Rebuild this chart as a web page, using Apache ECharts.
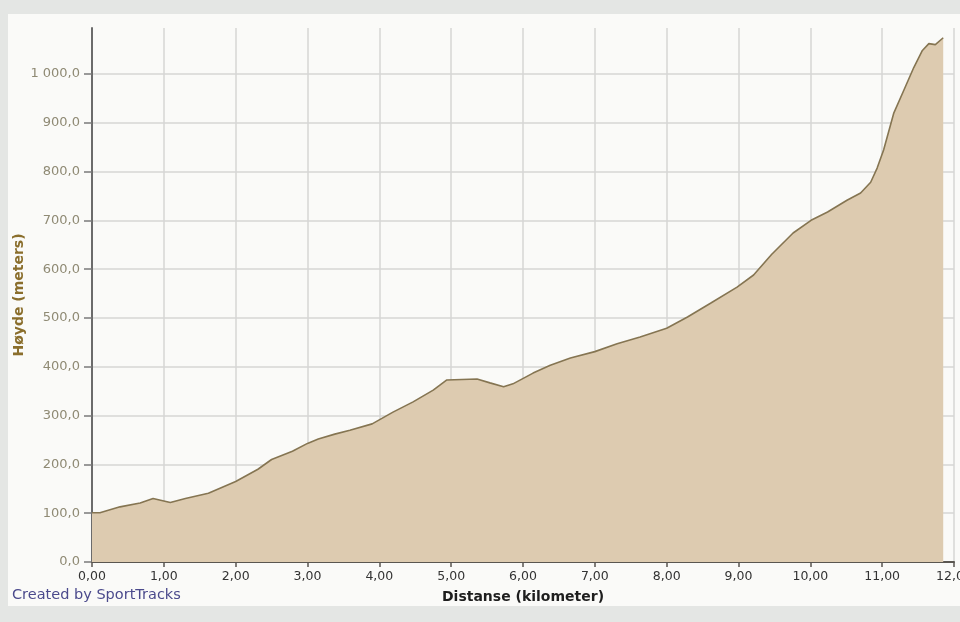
<!DOCTYPE html>
<html>
<head>
<meta charset="utf-8">
<script src="https://cdn.jsdelivr.net/npm/echarts@6/dist/echarts.min.js"></script>
<style>
html,body{margin:0;padding:0;background:#e4e6e4;}
#panel{position:absolute;left:8px;top:14px;width:952px;height:592px;background:#fafaf8;}
#chart{position:absolute;left:0;top:0;width:960px;height:622px;}
</style>
</head>
<body>
<div id="panel"></div>
<div id="chart"></div>
<script>
// Distance (km)
const distanceKm = [0.00,0.11,0.39,0.67,0.85,1.09,1.30,1.62,2.00,2.31,2.50,2.79,3.00,3.15,3.38,3.59,3.90,4.19,4.47,4.75,4.94,5.36,5.54,5.73,5.86,6.14,6.38,6.66,7.00,7.31,7.63,8.00,8.29,8.61,8.98,9.21,9.46,9.76,10.01,10.24,10.51,10.70,10.84,10.93,11.02,11.16,11.30,11.44,11.56,11.65,11.74,11.85];
// Elevation (meters)
const elevationM = [101,101,113,121,130,122,130,141,165,190,210,227,243,252,262,270,283,307,328,352,373,375,367,359,365,387,403,418,431,447,461,479,502,530,563,588,630,674,700,717,741,756,778,807,844,919,966,1013,1048,1062,1060,1074];

const xTitle = 'Distanse (kilometer)';
const yTitle = 'Høyde (meters)';
const credit = 'Created by SportTracks';

const points = distanceKm.map((d, i) => [d, elevationM[i]]);

function fmtY(v) {
  const s = v.toFixed(1).split('.');
  const intPart = s[0].replace(/\B(?=(\d{3})+(?!\d))/g, ' ');
  return intPart + ',' + s[1];
}
function fmtX(v) { return v.toFixed(2).replace('.', ','); }

const chart = echarts.init(document.getElementById('chart'), null, {renderer: 'canvas'});
const gridColors = [];
for (let i = 0; i < 11; i++) gridColors.push('#d6d6d4');
gridColors.push('rgba(0,0,0,0)');

chart.setOption({
  backgroundColor: 'transparent',
  animation: false,
  title: {
    text: credit,
    left: 12,
    top: 588,
    padding: 0,
    textStyle: {color: '#4b4a8c', fontSize: 14.5, fontWeight: 'normal', fontFamily: 'DejaVu Sans'}
  },
  grid: {left: 92, right: 6, top: 28, bottom: 60, containLabel: false, outerBoundsMode: 'none'},
  xAxis: {
    type: 'value',
    min: 0, max: 12, interval: 1,
    name: xTitle,
    nameLocation: 'middle',
    nameGap: 28,
    nameMoveOverlap: false,
    nameTextStyle: {color: '#1e1e1e', fontSize: 14, fontWeight: 'bold', fontFamily: 'DejaVu Sans'},
    axisLine: {show: true, onZero: false, lineStyle: {color: '#5a5650', width: 2}},
    axisTick: {show: true, length: 5, lineStyle: {color: '#5a5650', width: 1.5}},
    axisLabel: {color: '#333333', fontSize: 12.5, fontFamily: 'DejaVu Sans', margin: 8, formatter: fmtX, hideOverlap: false},
    splitLine: {show: true, lineStyle: {color: '#d6d6d4', width: 1.5}}
  },
  yAxis: {
    type: 'value',
    min: 0, max: 1094, interval: 100,
    name: yTitle,
    nameLocation: 'middle',
    nameGap: 66,
    nameMoveOverlap: false,
    nameRotate: 90,
    nameTextStyle: {color: '#8a6e2c', fontSize: 14, fontWeight: 'bold', fontFamily: 'DejaVu Sans'},
    axisLine: {show: true, lineStyle: {color: '#6b6b6b', width: 2}},
    axisTick: {show: true, length: 8, lineStyle: {color: '#7a7a7a', width: 1.5}},
    axisLabel: {
      color: '#8f8a74', fontSize: 13, fontFamily: 'DejaVu Sans', margin: 12, showMaxLabel: false,
      formatter: function (v) { return (v % 100 === 0) ? fmtY(v) : ''; }
    },
    splitLine: {show: true, lineStyle: {color: gridColors, width: 1.5}}
  },
  series: [{
    type: 'line',
    data: points,
    symbol: 'none',
    smooth: false,
    lineStyle: {color: '#857552', width: 1.6},
    areaStyle: {color: '#ddcbb0', opacity: 1}
  }]
});
</script>
</body>
</html>
